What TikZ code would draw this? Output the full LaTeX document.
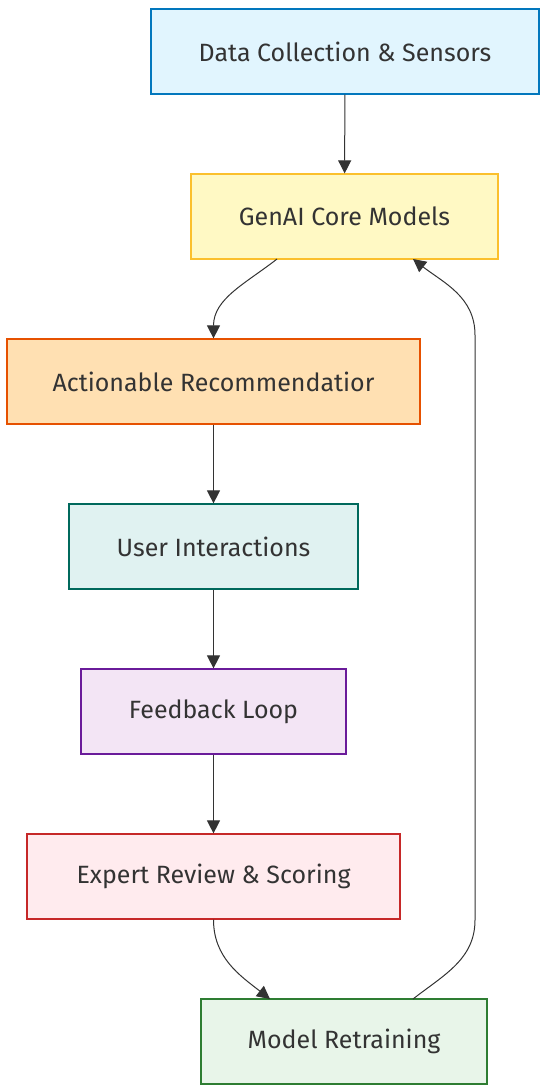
\documentclass[tikz,border=0pt]{standalone}
\usepackage{fontspec}
\setmainfont{Fira Sans}
\usetikzlibrary{arrows.meta}

\definecolor{ink}{HTML}{333333}
\definecolor{dcfill}{HTML}{E1F5FE}\definecolor{dcline}{HTML}{0277BD}
\definecolor{gcfill}{HTML}{FFF9C4}\definecolor{gcline}{HTML}{FBC02D}
\definecolor{arfill}{HTML}{FFE0B2}\definecolor{arline}{HTML}{E65100}
\definecolor{uifill}{HTML}{E0F2F1}\definecolor{uiline}{HTML}{00695C}
\definecolor{flfill}{HTML}{F3E5F5}\definecolor{flline}{HTML}{6A1B9A}
\definecolor{erfill}{HTML}{FFEBEE}\definecolor{erline}{HTML}{C62828}
\definecolor{mrfill}{HTML}{E8F5E9}\definecolor{mrline}{HTML}{2E7D32}

\begin{document}
\begin{tikzpicture}[x=0.5pt,y=-0.5pt,
    box/.style={draw, line width=0.6pt, minimum height=42.5pt, inner sep=0pt,
                text=ink, font=\fontsize{12.5}{15}\selectfont},
    flow/.style={draw=ink, line width=0.5pt, -{Triangle[length=6.5pt,width=6.5pt]}}]
            \useasboundingbox (0,0) rectangle (546,1092);

            \node[box, fill=dcfill, draw=dcline, minimum width=194pt] (DC) at (345,51.5) {Data Collection \& Sensors};
            \node[box, fill=gcfill, draw=gcline, minimum width=153.5pt] (GC) at (344.5,216.5) {GenAI Core Models};
            \node[box, fill=arfill, draw=arline, minimum width=206.5pt] (AR) at (213.5,381.5) {Actionable Recommendatior};
            \node[box, fill=uifill, draw=uiline, minimum width=144.5pt] (UI) at (213.5,546.5) {User Interactions};
            \node[box, fill=flfill, draw=flline, minimum width=132.5pt] (FL) at (213.5,711.5) {Feedback Loop};
            \node[box, fill=erfill, draw=erline, minimum width=186.5pt] (ER) at (213.5,876.5) {Expert Review \& Scoring};
            \node[box, fill=mrfill, draw=mrline, minimum width=143pt] (MR) at (344,1041.5) {Model Retraining};

            \coordinate (GCout) at (277,259);
            \coordinate (MRin) at (270,999);
            \coordinate (MRout) at (413,999);
            \coordinate (GCin) at (413,259);
            \coordinate (up1) at (475,920);
            \coordinate (up2) at (475,335);

            \path[flow] (DC) -- (GC);
            \path[flow] (GCout) to[out=-142,in=90] (AR.north);
            \path[flow] (AR) -- (UI);
            \path[flow] (UI) -- (FL);
            \path[flow] (FL) -- (ER);
            \path[flow] (ER.south) to[out=-90,in=142] (MRin);
            \path[flow] (MRout) to[out=38,in=-90] (up1) -- (up2) to[out=90,in=-38] (GCin);

        \end{tikzpicture}
\end{document}
